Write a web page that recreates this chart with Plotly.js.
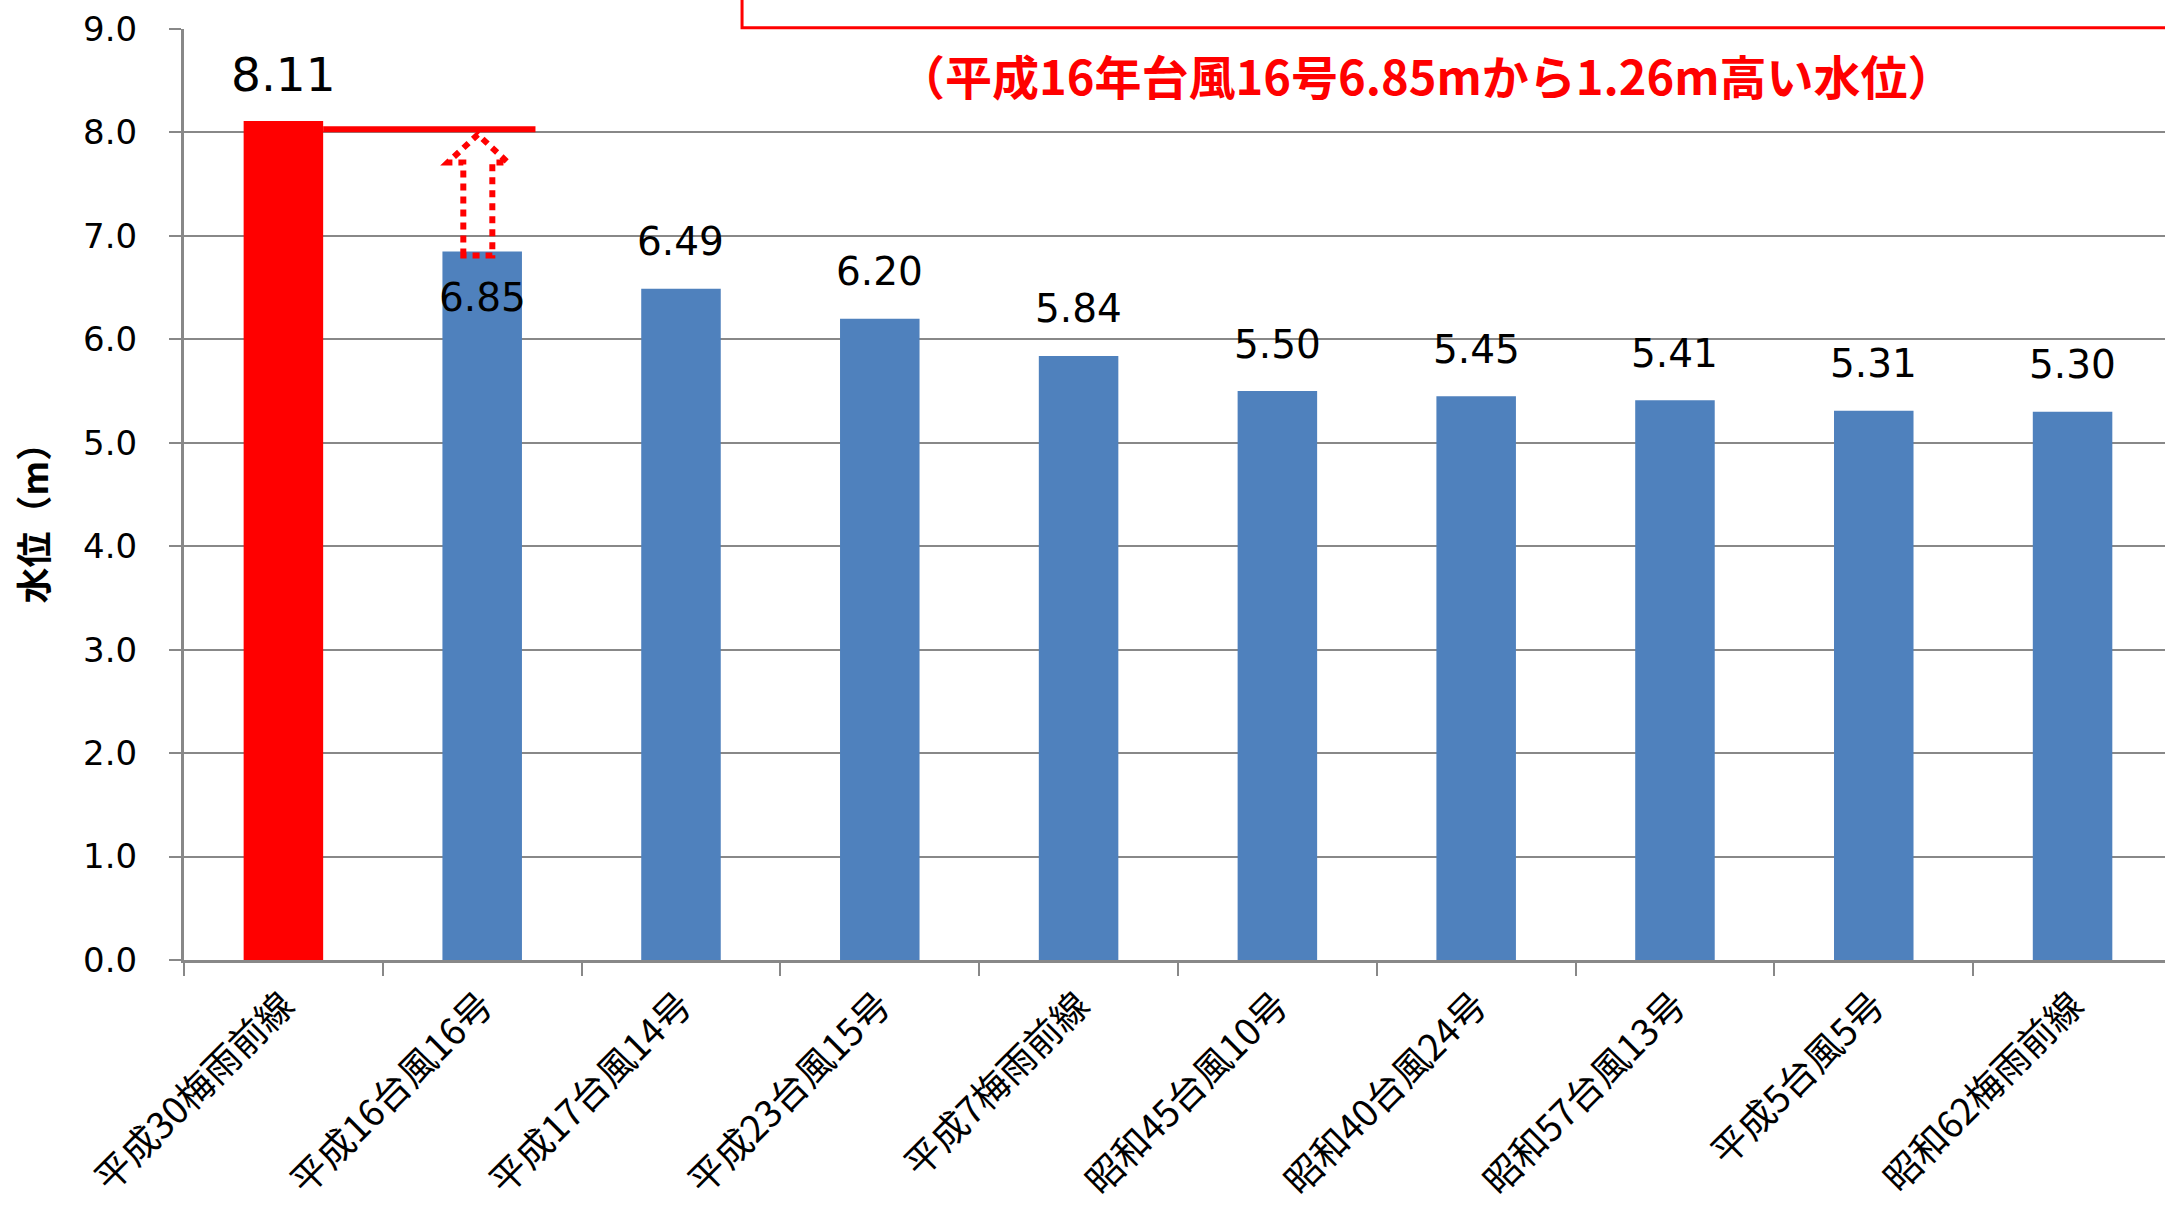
<!DOCTYPE html>
<html>
<head>
<meta charset="utf-8">
<script src="https://cdn.plot.ly/plotly-3.0.1.min.js"></script>
<style>html,body{margin:0;padding:0;background:#fff;}#chart{width:2165px;height:1211px;}</style>
</head>
<body>
<div id="chart"></div>
<script>
// ---- data ----
const categories = ['平成30梅雨前線','平成16台風16号','平成17台風14号','平成23台風15号','平成7梅雨前線','昭和45台風10号','昭和40台風24号','昭和57台風13号','平成5台風5号','昭和62梅雨前線'];
const values = [8.11, 6.85, 6.49, 6.20, 5.84, 5.50, 5.45, 5.41, 5.31, 5.30];
const valueLabels = ['8.11','6.85','6.49','6.20','5.84','5.50','5.45','5.41','5.31','5.30'];
const yTickVals = [0,1,2,3,4,5,6,7,8,9];
const yTickText = ['0.0','1.0','2.0','3.0','4.0','5.0','6.0','7.0','8.0','9.0'];
const yTitle = '水位（m）';
const noteText = '（平成16年台風16号6.85mから1.26m高い水位）';

// ---- style ----
const RED = '#FF0000', BLUE = '#4F81BD', GRID = '#888888';
const FONT = 'DejaVu Sans, Noto Sans, sans-serif';
const CJK = 'Noto Sans CJK JP, sans-serif';
const idx = categories.map((c, i) => i);
const barColors = categories.map((c, i) => i === 0 ? RED : BLUE);

const bar = {
  type: 'bar', x: idx, y: values, width: 0.4,
  marker: {color: barColors, line: {width: 0}},
  hoverinfo: 'skip', showlegend: false
};

// data labels
const annotations = values.map((v, i) => ({
  x: i, y: v, xref: 'x', yref: 'y', text: valueLabels[i], showarrow: false,
  xanchor: 'center', yanchor: 'middle',
  yshift: i === 1 ? -46 : 47,
  font: {family: FONT, size: i === 0 ? 47 : 39, color: '#000'}
}));
annotations.push({
  xref: 'paper', yref: 'paper', x: 0.627, y: 0.951, text: noteText, showarrow: false,
  xanchor: 'center', yanchor: 'middle',
  font: {family: CJK, size: 47, color: RED, weight: 'bold'}
});
annotations.push({
  xref: 'paper', yref: 'paper', x: -0.0765, y: 0.479, text: yTitle, showarrow: false,
  textangle: -90, xanchor: 'center', yanchor: 'middle',
  font: {family: CJK, size: 36, color: '#000', weight: 'bold'}
});

// arrow (decoration) geometry in axis units
const cx = 0.978, sw = 0.073, hw = 0.151, yb = 6.81, yh = 7.71, yt = 7.98;
const arrowPath = `M ${cx-sw} ${yb} L ${cx-sw} ${yh} L ${cx-hw} ${yh} L ${cx} ${yt} L ${cx+hw} ${yh} L ${cx+sw} ${yh} L ${cx+sw} ${yb} Z`;

const shapes = [
  {type: 'line', xref: 'x', yref: 'y', x0: 0.2, x1: 1.268, y0: 8.03, y1: 8.03,
   line: {color: RED, width: 6}},
  {type: 'path', xref: 'x', yref: 'y', path: arrowPath,
   line: {color: RED, width: 6, dash: '7px,6px'}},
  {type: 'rect', xref: 'paper', yref: 'paper', x0: 0.2817, x1: 1.05, y0: 1.0013, y1: 1.2,
   line: {color: RED, width: 3}}
];

const layout = {
  width: 2165, height: 1211,
  margin: {l: 184, r: 0, t: 29, b: 251, pad: 0},
  paper_bgcolor: '#fff', plot_bgcolor: '#fff',
  showlegend: false,
  xaxis: {
    type: 'linear', range: [-0.5, 9.465],
    tickmode: 'array', tickvals: idx, ticktext: categories,
    tickangle: -45, ticks: '', showgrid: false, zeroline: false,
    showline: true, linecolor: GRID, linewidth: 3,
    ticklabelstandoff: 6,
    tickfont: {family: CJK, size: 37, color: '#000'},
    minor: {tickmode: 'linear', tick0: -0.5, dtick: 1, ticks: 'outside', ticklen: 13, tickwidth: 2, tickcolor: GRID, showgrid: false}
  },
  yaxis: {
    range: [0, 9], tickmode: 'array', tickvals: yTickVals, ticktext: yTickText,
    ticks: 'outside', ticklen: 12, tickwidth: 2, tickcolor: GRID,
    showgrid: true, gridcolor: GRID, gridwidth: 2,
    zeroline: false, showline: true, linecolor: GRID, linewidth: 3,
    ticklabelstandoff: 25,
    tickfont: {family: FONT, size: 34, color: '#000'}
  },
  annotations: annotations,
  shapes: shapes
};

Plotly.newPlot('chart', [bar], layout, {displayModeBar: false, staticPlot: true});
</script>
</body>
</html>
